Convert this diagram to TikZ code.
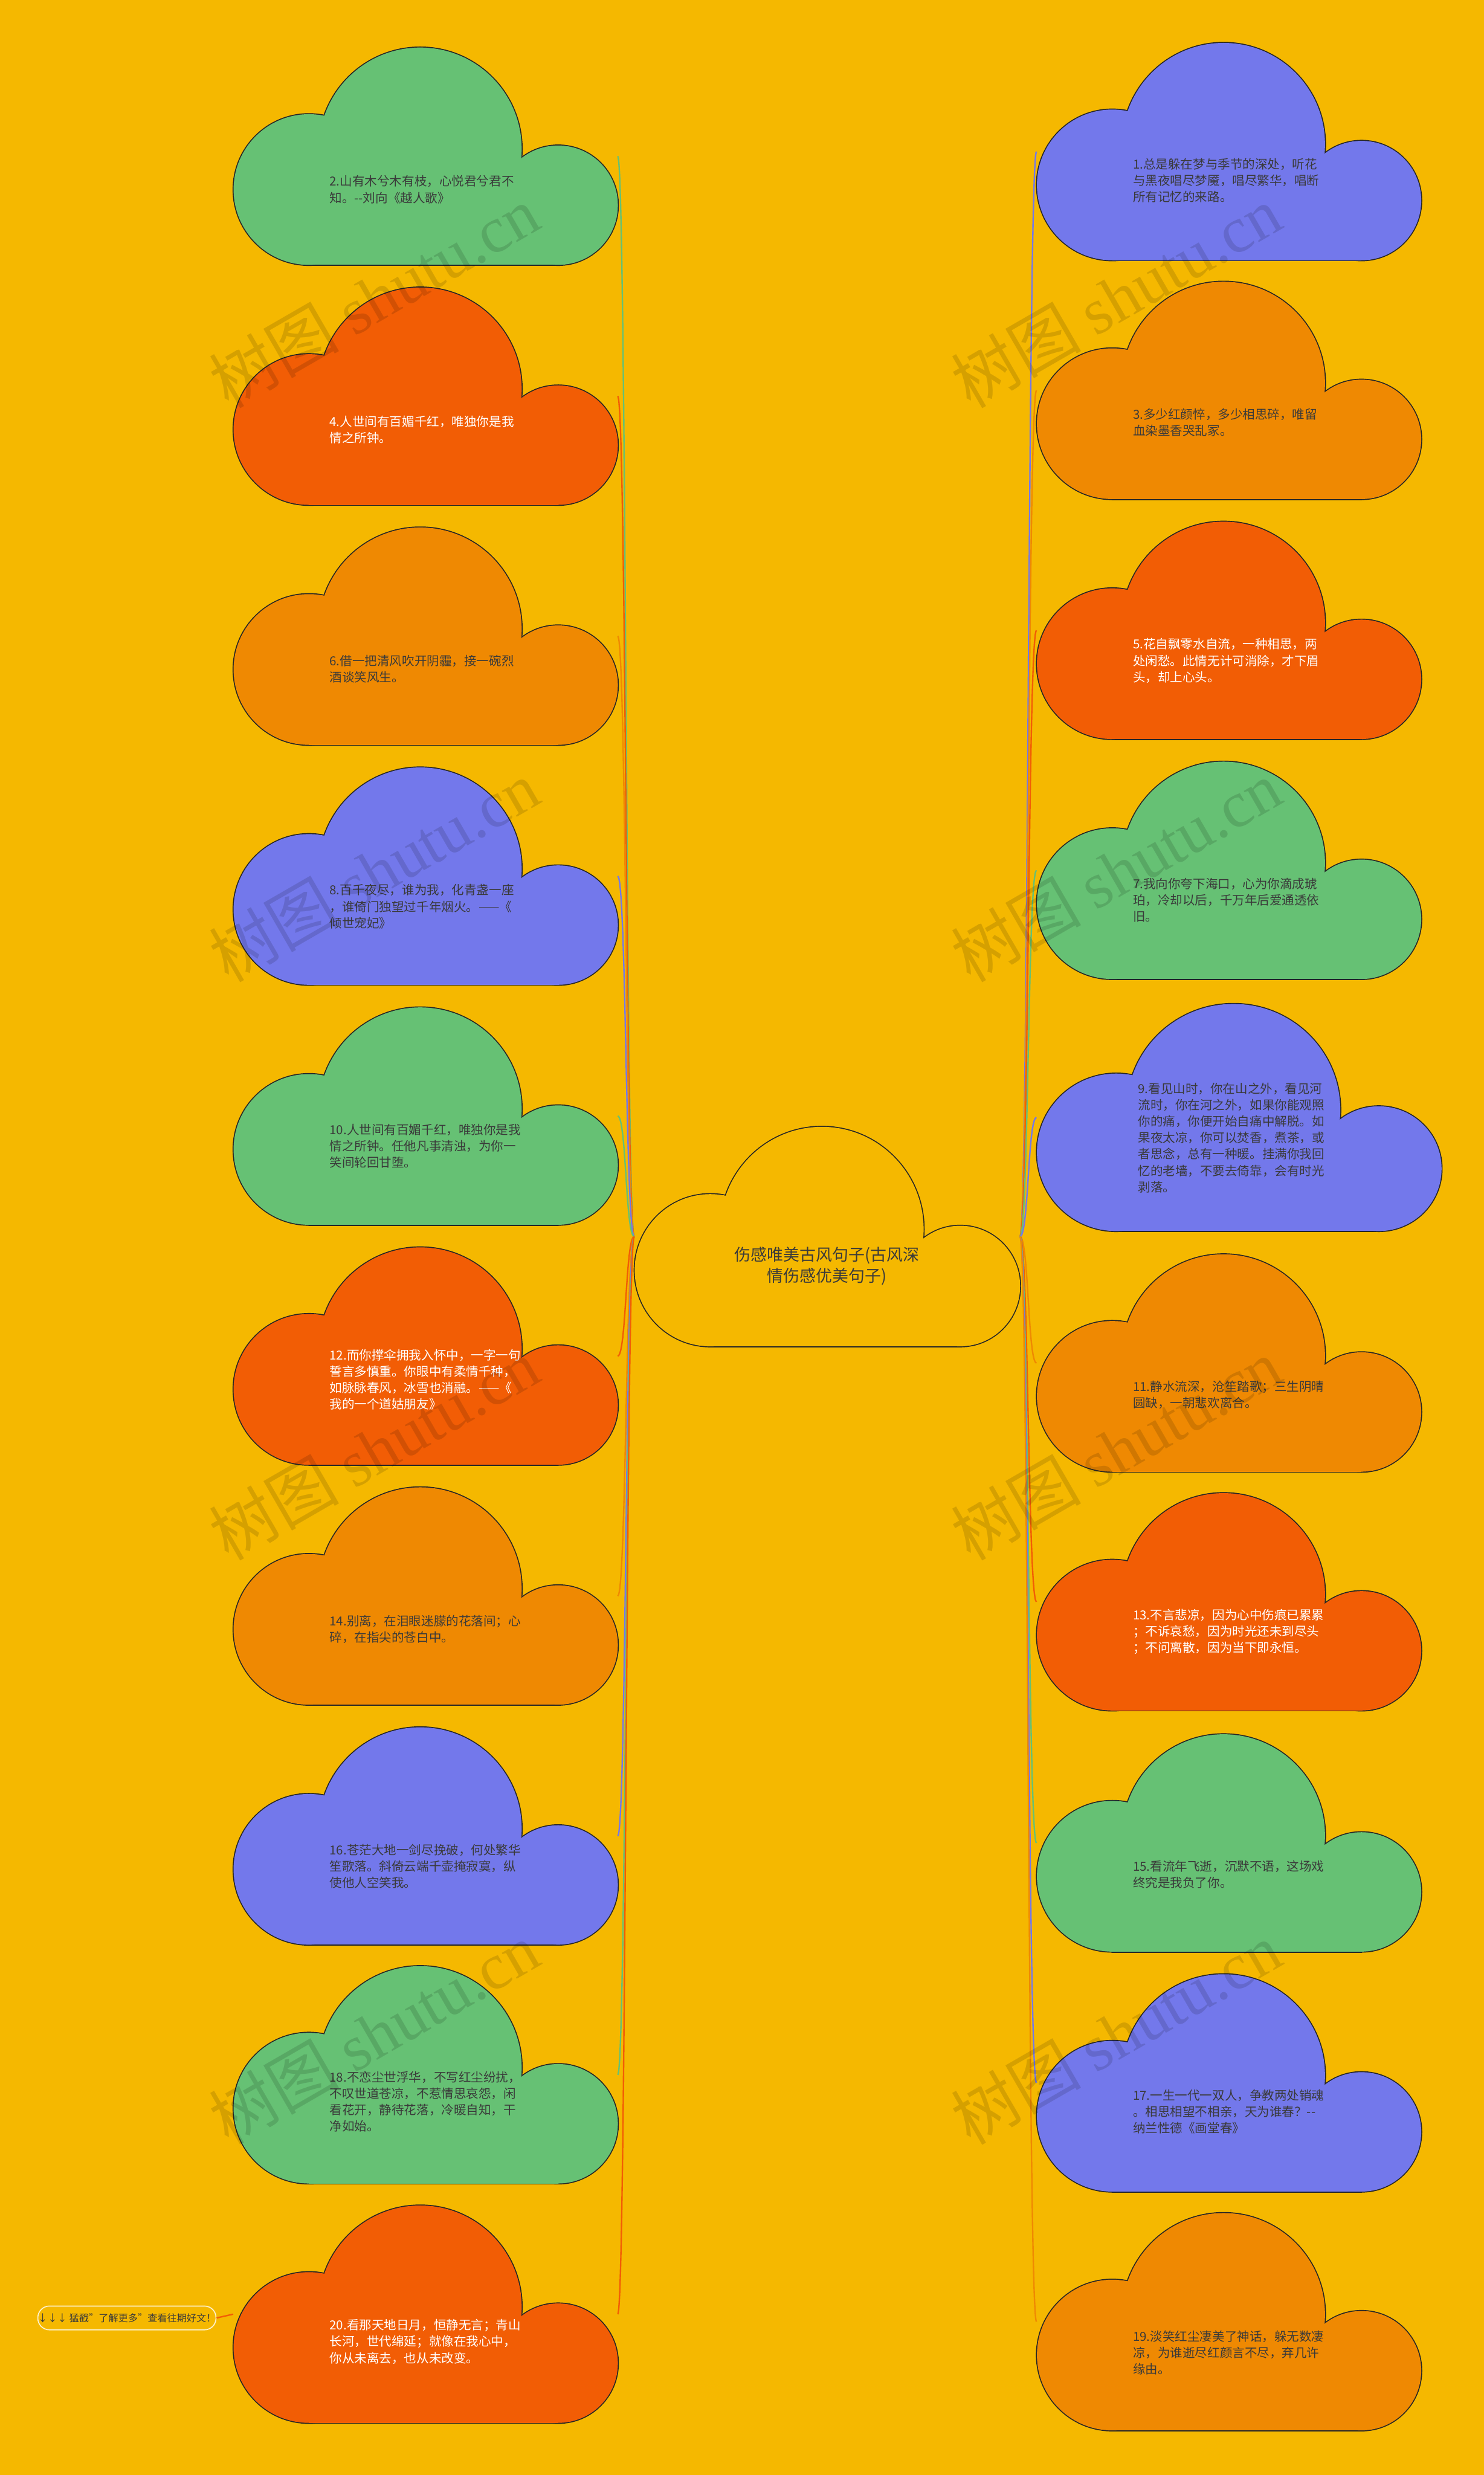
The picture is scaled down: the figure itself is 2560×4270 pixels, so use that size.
\documentclass[tikz,border=0pt]{standalone}
\usepackage{fontspec}
\setmainfont{Noto Sans CJK SC}
\newfontfamily\wmserif{Liberation Serif}

\definecolor{bgyellow}{HTML}{F5B800}
\definecolor{cgreen}{HTML}{66C174}
\definecolor{cred}{HTML}{F25D05}
\definecolor{corange}{HTML}{EF8902}
\definecolor{cblue}{HTML}{7378EB}
\definecolor{tdark}{HTML}{3A3A3A}

\tikzset{
  cloudedge/.style={draw=black!85, line width=1pt, line join=round},
  cloudbox/.style={transform shape, minimum width=66.2mm, minimum height=37.5mm, inner sep=0pt},
  cloudtext/.style={inner sep=0pt, align=left, font=\fontsize{6.1pt}{8.05pt}\selectfont},
  link/.style={line width=0.7pt},
  watermark/.style={rotate=30, text=black, opacity=0.13, font=\fontsize{32pt}{34pt}\selectfont},
  morebox/.style={draw=white!80!bgyellow, line width=0.5pt, rounded corners=2mm, minimum width=30.2mm,
    minimum height=4.1mm, inner sep=0pt, text=tdark, font=\fontsize{4.8pt}{5.5pt}\selectfont}
}

% cloud outline at the scope origin, px units, y down
\newcommand{\cloudshape}[1]{%
  \draw[cloudedge] (130,245) circle (130);
  \draw[cloudedge] (322,175) circle (175);
  \draw[cloudedge] (560,272) circle (103);
  \draw[cloudedge] (130,240) rectangle (560,375);
  \fill[#1] (130,245) circle (130);
  \fill[#1] (322,175) circle (175);
  \fill[#1] (560,272) circle (103);
  \fill[#1] (130,240) rectangle (560,375);
}

% [scope options]{name}{x}{y}{fill}{text colour}{text y}{text}
\newcommand{\cloudnode}[8][]{%
  \begin{scope}[shift={(#3,#4)}, #1]
    \cloudshape{#5}
    \node[cloudbox] (#2) at (331,187.5) {};
    \node[cloudtext, text=#6, anchor=west] (#2t) at (165,#7) {#8};
  \end{scope}}

\begin{document}
\begin{tikzpicture}[x=0.1mm, y=-0.1mm]
    \useasboundingbox (0,0) rectangle (2560,4270);
    \fill[bgyellow] (0,0) rectangle (2560,4270);

    % centre cloud
    \begin{scope}[shift={(1095,1944)}, xscale=1.003, yscale=1.01]
        \cloudshape{bgyellow}
        \node[cloudbox] (title) at (331,187.5) {};
        \node[inner sep=0pt, align=center, text=tdark, font=\fontsize{8pt}{10.3pt}\selectfont] (titlet) at (331,238)
            {伤感唯美古风句子(古风深\\情伤感优美句子)};
    \end{scope}

    % left column
    \cloudnode{q2}{403}{82}{cgreen}{tdark}{245}{2.山有木兮木有枝，心悦君兮君不\\知。-{}-刘向《越人歌》}
    \cloudnode{q4}{403}{496}{cred}{white}{245}{4.人世间有百媚千红，唯独你是我\\情之所钟。}
    \cloudnode{q6}{403}{910}{corange}{tdark}{244}{6.借一把清风吹开阴霾，接一碗烈\\酒谈笑风生。}
    \cloudnode{q8}{403}{1324}{cblue}{tdark}{240}{8.百千夜尽，谁为我，化青盏一座\\，谁倚门独望过千年烟火。——《\\倾世宠妃》}
    \cloudnode{q10}{403}{1738}{cgreen}{tdark}{239}{10.人世间有百媚千红，唯独你是我\\情之所钟。任他凡事清浊，为你一\\笑间轮回甘堕。}
    \cloudnode{q12}{403}{2152}{cred}{white}{228}{12.而你撑伞拥我入怀中，一字一句\\誓言多慎重。你眼中有柔情千种，\\如脉脉春风，冰雪也消融。——《\\我的一个道姑朋友》}
    \cloudnode{q14}{403}{2566}{corange}{tdark}{245}{14.别离，在泪眼迷朦的花落间；心\\碎，在指尖的苍白中。}
    \cloudnode{q16}{403}{2980}{cblue}{tdark}{240}{16.苍茫大地一剑尽挽破，何处繁华\\笙歌落。斜倚云端千壶掩寂寞，纵\\使他人空笑我。}
    \cloudnode{q18}{403}{3392}{cgreen}{tdark}{234}{18.不恋尘世浮华，不写红尘纷扰，\\不叹世道苍凉，不惹情思哀怨，闲\\看花开，静待花落，冷暖自知，干\\净如始。}
    \cloudnode{q20}{403}{3805}{cred}{white}{235}{20.看那天地日月，恒静无言；青山\\长河，世代绵延；就像在我心中，\\你从未离去，也从未改变。}

    % right column
    \cloudnode{q1}{1789}{74}{cblue}{tdark}{237}{1.总是躲在梦与季节的深处，听花\\与黑夜唱尽梦魇，唱尽繁华，唱断\\所有记忆的来路。}
    \cloudnode{q3}{1789}{486}{corange}{tdark}{243}{3.多少红颜悴，多少相思碎，唯留\\血染墨香哭乱冢。}
    \cloudnode{q5}{1789}{900}{cred}{white}{240}{5.花自飘零水自流，一种相思，两\\处闲愁。此情无计可消除，才下眉\\头，却上心头。}
    \cloudnode{q7}{1789}{1314}{cgreen}{tdark}{239}{7.我向你夸下海口，心为你滴成琥\\珀，冷却以后，千万年后爱通透依\\旧。}
    \cloudnode[xscale=1.053, yscale=1.045]{q9}{1789}{1732}{cblue}{tdark}{221}{9.看见山时，你在山之外，看见河\\流时，你在河之外，如果你能观照\\你的痛，你便开始自痛中解脱。如\\果夜太凉，你可以焚香，煮茶，或\\者思念，总有一种暖。挂满你我回\\忆的老墙，不要去倚靠，会有时光\\剥落。}
    \cloudnode{q11}{1789}{2164}{corange}{tdark}{242}{11.静水流深，沧笙踏歌；三生阴晴\\圆缺，一朝悲欢离合。}
    \cloudnode{q13}{1789}{2576}{cred}{white}{239}{13.不言悲凉，因为心中伤痕已累累\\；不诉哀愁，因为时光还未到尽头\\；不问离散，因为当下即永恒。}
    \cloudnode{q15}{1789}{2992}{cgreen}{tdark}{242}{15.看流年飞逝，沉默不语，这场戏\\终究是我负了你。}
    \cloudnode{q17}{1789}{3406}{cblue}{tdark}{237}{17.一生一代一双人，争教两处销魂\\。相思相望不相亲，天为谁春？-{}-\\纳兰性德《画堂春》}
    \cloudnode{q19}{1789}{3818}{corange}{tdark}{241}{19.淡笑红尘凄美了神话，躲无数凄\\凉，为谁逝尽红颜言不尽，弃几许\\缘由。}

    % links to the left
    \foreach \n/\c in {2/cgreen, 4/cred, 6/corange, 8/cblue, 10/cgreen, 12/cred, 14/corange, 16/cblue, 18/cgreen, 20/cred}
        \draw[link, \c] (title.west) .. controls +(-15,0) and +(15,0) .. (q\n.east);
    % links to the right
    \foreach \n/\c in {1/cblue, 3/corange, 5/cred, 7/cgreen, 9/cblue, 11/corange, 13/cred, 15/cgreen, 17/cblue, 19/corange}
        \draw[link, \c] (title.east) .. controls +(15,0) and +(-15,0) .. (q\n.west);

    % footer note
    \node[morebox] (more) at (219,3999) {↓↓↓ 猛戳"了解更多"查看往期好文！};
    \draw[link, cred] (more.east) -- (q20.west);

    % watermarks
    \foreach \wy in {512,1503,2500,3508} {
        \node[watermark] (wmL\wy) at (645,\wy) {树图 {\wmserif shutu.cn}};
        \node[watermark] (wmR\wy) at (1925,\wy) {树图 {\wmserif shutu.cn}};
    }
\end{tikzpicture}
\end{document}
